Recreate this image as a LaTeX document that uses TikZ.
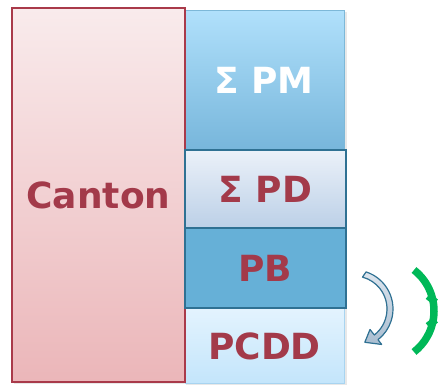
\documentclass[tikz,border=0pt]{standalone}
\usepackage{fontspec}
\setmainfont{DejaVu Sans}
\usetikzlibrary{calc}
\definecolor{txtred}{HTML}{A33A4A}
\definecolor{cantonborder}{HTML}{A93A4A}
\definecolor{cantontop}{HTML}{F9EBEC}
\definecolor{cantonbot}{HTML}{EBB6B9}
\definecolor{pmtop}{HTML}{B0E0FB}
\definecolor{pmbot}{HTML}{77B6DB}
\definecolor{pmborder}{HTML}{7DB8D8}
\definecolor{pdtop}{HTML}{EBF1F9}
\definecolor{pdbot}{HTML}{BCD0E7}
\definecolor{darkborder}{HTML}{2F7193}
\definecolor{pbfill}{HTML}{66B0D7}
\definecolor{pcddtop}{HTML}{E3F3FE}
\definecolor{pcddbot}{HTML}{C3E5FB}
\definecolor{pcddborder}{HTML}{A8D4F0}
\definecolor{arrgreen}{HTML}{00B858}
\definecolor{arrfilltop}{HTML}{DDE5EE}
\definecolor{arrfillbot}{HTML}{A9BDD0}
\begin{document}
\begin{tikzpicture}[x=1pt,y=1pt,
  box/.style={rectangle, inner sep=0pt, outer sep=0pt, font=\fontsize{36}{42}\selectfont\bfseries, text=txtred}]
\useasboundingbox (0,0) rectangle (448,390);
% shadows
\fill[black!30, opacity=0.3] (186,5) rectangle (347,378);
\fill[black!30, opacity=0.3] (14,6) rectangle (187,380);
% boxes
\node[box, minimum width=160, minimum height=139, top color=pmtop, bottom color=pmbot, draw=pmborder, line width=1pt, text=white] (pm) at (264,309.5) {Σ PM};
\node[box, minimum width=159, minimum height=75, top color=pcddtop, bottom color=pcddbot, draw=pcddborder, line width=1pt] (pcdd) at (264.5,43.5) {PCDD};
\node[box, minimum width=173, minimum height=374, top color=cantontop, bottom color=cantonbot, draw=cantonborder, line width=1.3pt] (canton) at (98.5,195) {Canton};
\node[box, minimum width=161, minimum height=78, top color=pdtop, bottom color=pdbot, draw=darkborder, line width=1.3pt] (pd) at (265.5,201) {Σ PD};
\node[box, minimum width=161, minimum height=80, fill=pbfill, draw=darkborder, line width=1.3pt] (pb) at (265.5,122) {PB};
% blue curved arrow
\coordinate (bc) at (354,81);
\filldraw[draw=darkborder, line width=1.2pt, top color=arrfilltop, bottom color=arrfillbot, line join=round]
  ($(bc)+(72:39)$) arc[start angle=72, end angle=-52, radius=39]
  -- ($(bc)+(-52:45)$) -- ($(bc)+(-72:35)$) -- ($(bc)+(-52:26)$)
  -- ($(bc)+(-52:33)$) arc[start angle=-52, end angle=75, radius=33] -- cycle;
% green arc
\coordinate (gc) at (382,79);
\draw[arrgreen, line width=7.5pt] ($(gc)+(52:52)$) arc[start angle=52, end angle=-52, radius=52];
\fill[arrgreen, rotate around={-38:($(gc)+(52:52)$)}] ($(gc)+(52:52)+(-5,-4.5)$) rectangle ++(10,7);
\fill[arrgreen, rotate around={38:($(gc)+(-52:52)$)}] ($(gc)+(-52:52)+(-5,-2.5)$) rectangle ++(10,7);
\end{tikzpicture}
\end{document}
